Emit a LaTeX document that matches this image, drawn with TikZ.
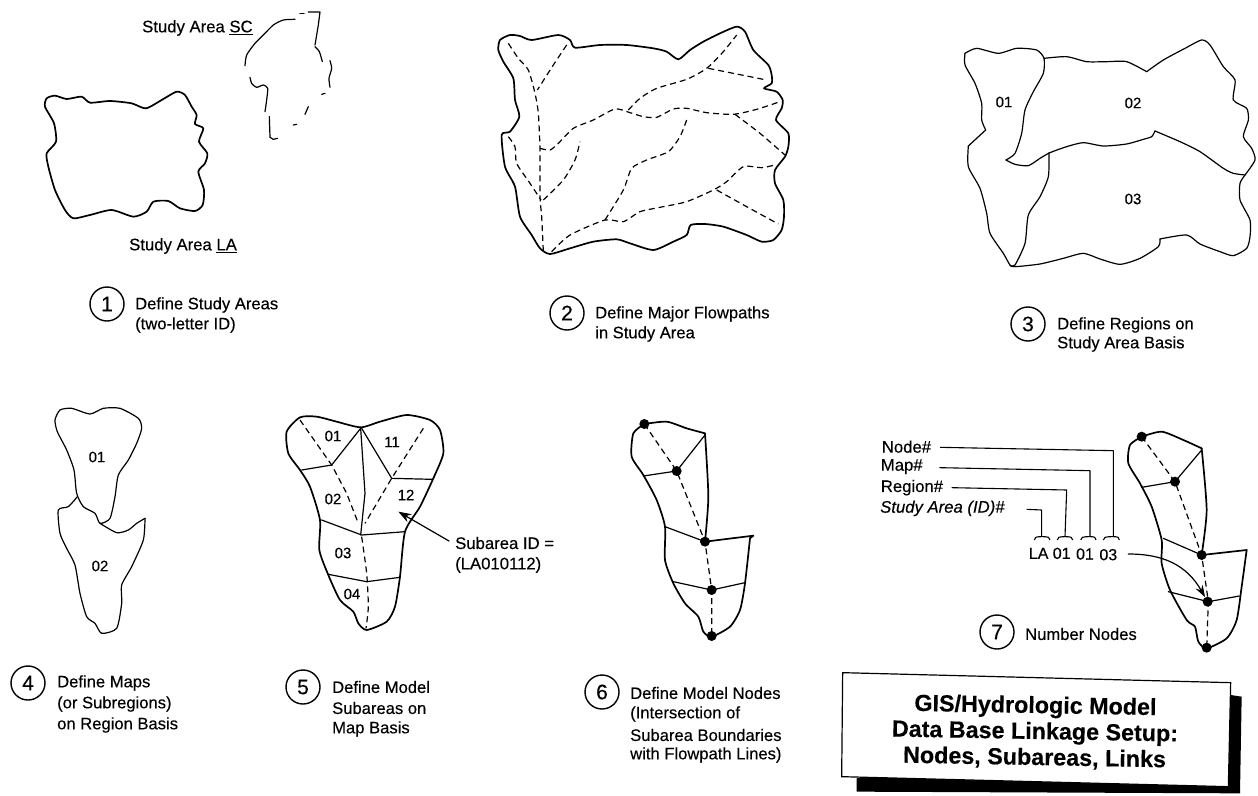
\documentclass[tikz,border=0pt]{standalone}
\usepackage{fontspec}
\setmainfont[FakeBold=0.3]{Liberation Sans}
\usetikzlibrary{arrows.meta}
\newcommand{\wob}[1]{plot[smooth,tension=0.4] coordinates {#1}}
\newcommand{\wobc}[1]{plot[smooth cycle,tension=0.4] coordinates {#1}}
\tikzset{
  outl/.style={line width=1.7pt,line join=round,line cap=round},
  thinl/.style={line width=1.2pt,line join=round,line cap=round},
  brk/.style={line width=1.1pt,line join=round},
  flow/.style={line width=1.2pt,dash pattern=on 6pt off 4pt},
  numc/.style={circle,draw,line width=1.4pt,minimum size=34pt,inner sep=0pt,font=\fontsize{21}{21}\selectfont},
  capt/.style={anchor=west,inner sep=0pt,font=\fontsize{16.6}{16.6}\selectfont},
  idl/.style={inner sep=0pt,font=\fontsize{15}{15}\selectfont},
  keyl/.style={anchor=west,inner sep=0pt,font=\fontsize{16.7}{16.7}\selectfont},
  ndot/.style={circle,fill=black,inner sep=0pt,minimum size=10pt},
  zm/.style={x=0.33333pt,y=-0.33333pt}
}
\begin{document}
\begin{tikzpicture}[x=1pt,y=-1pt]
\useasboundingbox (0,0) rectangle (1258,795);
% ---------- Panel 1
\begin{scope}[zm]
\draw[outl] \wobc{(140,295)(165,287)(200,297)(245,290)(270,308)(330,303)(395,310)(438,325)(490,297)(530,275)(555,285)(575,320)(590,345)(585,372)(610,385)(597,425)(622,460)(615,490)(595,515)(612,570)(608,615)(585,633)(540,625)(505,603)(460,605)(440,635)(400,650)(335,630)(270,645)(220,655)(195,630)(165,570)(145,500)(140,460)(168,425)(162,370)(135,320)};
\draw[thinl] \wob{(735,197)(740,165)(765,130)(790,105)(820,75)(850,60)(885,58)};
\draw[thinl] (900,40) -- (912,40);
\draw[thinl] (925,36) -- (960,36) -- (955,75) -- (945,135);
\draw[thinl] \wob{(945,140)(958,155)(967,185)};
\draw[thinl] \wob{(990,182)(995,205)(987,235)(990,262)};
\draw[thinl] (965,283) -- (975,280);
\draw[thinl] (925,320) -- (915,343);
\draw[thinl] (880,375) -- (890,373);
\draw[thinl] (808,350) -- (810,412) -- (820,418) -- (833,415);
\draw[thinl] \wob{(750,232)(755,250)(770,262)(790,255)(803,265)(800,300)(795,335)};
\end{scope}
\node[keyl] (sc) at (142,28) {Study Area \underline{SC}};
\node[keyl] (la) at (129,246) {Study Area \underline{LA}};
\node[numc] (c1) at (107,304) {1};
\node[capt] (t1a) at (135,305) {Define Study Areas};
\node[capt] (t1b) at (135,325) {(two-letter ID)};
% ---------- Panel 2
\begin{scope}[shift={(460,0)},zm]
\draw[outl] \wobc{(115,150)(120,120)(150,105)(180,108)(215,120)(295,105)(330,120)(345,143)(420,135)(500,135)(580,145)(620,155)(655,178)(690,150)(730,125)(780,100)(830,80)(855,95)(880,150)(925,195)(935,225)(935,250)(912,265)(950,275)(968,300)(965,325)(948,360)(985,400)(985,440)(975,470)(945,510)(945,550)(970,600)(972,650)(965,690)(940,720)(905,725)(860,705)(790,680)(735,672)(692,675)(680,705)(640,725)(580,750)(510,730)(470,718)(400,725)(330,745)(270,762)(240,745)(215,705)(180,650)(165,560)(135,500)(125,405)(150,395)(178,350)(165,300)(160,235)(130,185)};
\draw[flow] \wob{(145,130)(175,175)(205,210)(225,280)(235,340)(240,450)(240,590)(245,650)(250,755)};
\draw[flow] \wob{(320,135)(280,195)(232,270)};
\draw[flow] \wob{(240,445)(270,450)(295,430)(340,385)(400,360)(465,327)(510,338)(550,350)(590,352)(640,327)(680,325)(740,338)(820,343)(890,328)(960,305)};
\draw[flow] \wob{(505,330)(540,295)(590,265)(680,238)(740,205)(790,155)(830,105)};
\draw[flow] \wob{(745,205)(830,222)(920,240)};
\draw[flow] \wob{(825,343)(900,400)(975,465)};
\draw[flow] \wob{(145,410)(165,440)(170,490)(210,550)(243,600)};
\draw[flow] \wob{(250,600)(310,540)(345,480)(360,425)};
\draw[flow] \wob{(680,360)(660,410)(625,455)(560,480)(515,505)(490,570)(435,660)};
\draw[flow] \wob{(275,755)(330,705)(435,660)(490,665)(540,635)(600,622)(680,605)(760,570)(800,545)(850,500)(905,503)(945,495)};
\draw[flow] \wob{(770,570)(860,620)(955,672)};
\end{scope}
\node[numc] (c2) at (567,313) {2};
\node[capt] (t2a) at (595,314) {Define Major Flowpaths};
\node[capt] (t2b) at (595,334) {in Study Area};
% ---------- Panel 3
\begin{scope}[shift={(900,20)},zm]
\draw[thinl] \wob{(195,100)(230,85)(295,100)(350,85)(410,90)(432,115)(430,160)(400,215)(375,270)(365,340)(345,400)(318,420)};
\draw[thinl] \wob{(318,420)(345,433)(385,437)(420,415)(450,398)(500,380)(550,368)(610,378)(680,372)(730,358)(755,350)(765,333)};
\draw[thinl] \wob{(195,100)(195,135)(225,190)(245,250)(245,300)(257,330)};
\draw[thinl] (257,330) -- (205,378);
\draw[thinl] \wob{(205,378)(205,440)(240,505)(260,580)(270,640)(310,700)(330,735)(345,740)(420,732)(490,715)(550,700)(600,717)(660,733)(720,715)(775,680)(780,657)};
\draw[thinl] \wob{(780,657)(860,645)(900,672)(960,695)(1000,707)(1040,685)(1050,650)(1050,600)(1020,540)(1020,490)(1035,465)};
\draw[thinl] \wob{(1035,465)(1065,420)(1055,385)(1030,350)(1045,300)(1040,265)(1000,240)(1005,180)(970,140)(930,75)(905,60)(855,85)(790,120)(740,155)};
\draw[thinl] \wob{(740,155)(680,125)(620,125)(560,125)(500,110)(432,115)};
\draw[thinl] \wob{(765,333)(840,365)(900,395)(970,445)(1000,460)(1035,465)};
\draw[thinl] \wob{(447,398)(445,470)(420,530)(385,585)(375,670)(345,735)(330,737)};
\end{scope}
\node[idl] (r1) at (1004,102) {01};
\node[idl] (r2) at (1133,103) {02};
\node[idl] (r3) at (1133,199) {03};
\node[numc] (c3) at (1028,324) {3};
\node[capt] (t3a) at (1057,325) {Define Regions on};
\node[capt] (t3b) at (1057,344) {Study Area Basis};
% ---------- Panel 4
\begin{scope}[shift={(0,390)},zm]
\draw[thinl] \wobc{(165,90)(180,60)(215,55)(270,72)(310,55)(360,55)(415,85)(425,115)(410,160)(385,210)(355,255)(345,320)(330,385)(300,400)(285,370)(250,350)(230,310)(222,240)(200,180)(172,125)};
\draw[thinl] \wob{(232,320)(205,350)(175,360)(180,430)(200,475)(225,525)(240,610)(260,680)(285,700)(305,730)(350,715)(365,640)(365,585)(395,530)(430,450)(435,385)};
\draw[thinl] \wob{(435,385)(410,400)(385,420)(350,428)(300,400)};
\end{scope}
\node[idl] (m1) at (97,457) {01};
\node[idl] (m2) at (100,566) {02};
\node[numc] (c4) at (28,683) {4};
\node[capt] (t4a) at (57,683) {Define Maps};
\node[capt] (t4b) at (57,704) {(or Subregions)};
\node[capt] (t4c) at (57,725) {on Region Basis};
% ---------- Panel 5
\node[keyl] (s1) at (455,543) {Subarea ID =};
\node[keyl] (s2) at (455,565) {(LA010112)};
\begin{scope}[shift={(0,390)},zm]
\draw[outl] \wobc{(1082,112)(1010,95)(950,80)(900,82)(860,125)(865,190)(900,240)(930,290)(960,390)(958,480)(985,555)(1020,630)(1060,665)(1075,700)(1100,720)(1160,695)(1185,650)(1200,560)(1215,425)(1260,350)(1300,265)(1330,190)(1320,120)(1290,90)(1220,75)(1140,95)};
\draw[thinl] (905,240) -- (995,225) -- (1082,115);
\draw[thinl] (1082,115) -- (1095,310) -- (1082,435);
\draw[thinl] (1085,115) -- (1175,265) -- (1298,268);
\draw[thinl] (965,390) -- (1085,435) -- (1215,425);
\draw[thinl] (985,553) -- (1100,575) -- (1200,562);
\draw[flow] (900,90) -- (995,225) -- (1040,310) -- (1075,400);
\draw[flow] (1270,115) -- (1175,265) -- (1095,400);
\draw[flow] \wob{(1085,440)(1100,550)(1105,650)(1098,715)};
\coordinate (s5tip) at (1195,365);
\draw[thinl,-{Stealth[length=13pt,width=9pt]}] ([xshift=-6pt,yshift=2pt]s1.west) -- (s5tip);
\end{scope}
\node[idl] (a1) at (333,436) {01};
\node[idl] (a11) at (392,442) {11};
\node[idl] (a2) at (333,499) {02};
\node[idl] (a12) at (406,495) {12};
\node[idl] (a3) at (343,553) {03};
\node[idl] (a4) at (352,594) {04};
\node[numc] (c5) at (303,687) {5};
\node[capt] (t5a) at (332,687) {Define Model};
\node[capt] (t5b) at (332,708) {Subareas on};
\node[capt] (t5c) at (332,729) {Map Basis};
% ---------- Panel 6
\begin{scope}[shift={(560,400)},zm]
\draw[outl] \wob{(253,72)(220,100)(215,170)(250,225)(290,300)(315,380)(315,480)(340,550)(375,610)(415,650)(430,695)(455,710)(510,680)(540,630)(555,550)(570,415)};
\draw[outl] (570,415) -- (580,407) -- (435,425);
\draw[outl] \wob{(435,425)(445,290)(435,100)};
\draw[outl] \wob{(435,100)(380,85)(320,65)(253,72)};
\draw[thinl] (250,228) -- (350,213) -- (435,105);
\draw[thinl] (315,380) -- (435,425);
\draw[thinl] (340,545) -- (455,570) -- (555,548);
\draw[flow] (253,72) -- (350,213) -- (435,425) -- (455,570) -- (455,710);
\node[ndot] (n61) at (253,72) {};
\node[ndot] (n62) at (350,213) {};
\node[ndot] (n63) at (435,425) {};
\node[ndot] (n64) at (455,570) {};
\node[ndot] (n65) at (455,708) {};
\end{scope}
\node[numc] (c6) at (602,692) {6};
\node[capt] (t6a) at (630,693) {Define Model Nodes};
\node[capt] (t6b) at (630,714) {(Intersection of};
\node[capt] (t6c) at (630,735) {Subarea Boundaries};
\node[capt] (t6d) at (630,755) {with Flowpath Lines)};
% ---------- Panel 7
\begin{scope}[shift={(840,400)},zm]
\draw[outl] \wob{(905,110)(870,135)(865,190)(900,250)(935,320)(965,420)(965,490)(990,570)(1040,660)(1065,680)(1075,725)(1100,745)(1160,715)(1190,660)(1205,560)(1220,450)};
\draw[outl] (1220,450) -- (1085,465);
\draw[outl] \wob{(1085,465)(1100,330)(1085,145)};
\draw[outl] \wob{(1085,145)(1030,120)(965,95)(905,110)};
\draw[thinl] (905,262) -- (1005,245) -- (1085,150);
\draw[thinl] (970,415) -- (1085,465);
\draw[thinl] (985,575) -- (1105,605) -- (1198,588);
\draw[flow] (905,110) -- (1005,245) -- (1085,465) -- (1105,605) -- (1100,745);
\node[ndot] (n71) at (905,110) {};
\node[ndot] (n72) at (1005,245) {};
\node[ndot] (n73) at (1085,465) {};
\node[ndot] (n74) at (1103,605) {};
\node[ndot] (n75) at (1100,743) {};
\node[keyl] (kn) at (125,140) {Node\#};
\node[keyl] (km) at (122,200) {Map\#};
\node[keyl] (kr) at (122,263) {Region\#};
\node[keyl] (ks) at (120,325) {\itshape Study Area (ID)\#};
\node[idl,font=\fontsize{16}{16}\selectfont] (dla) at (596,460) {LA};
\node[idl,font=\fontsize{16}{16}\selectfont] (d1) at (665,460) {01};
\node[idl,font=\fontsize{16}{16}\selectfont] (d2) at (735,462) {01};
\node[idl,font=\fontsize{16}{16}\selectfont] (d3) at (805,464) {03};
\coordinate (bn) at (820,410);
\coordinate (bm) at (750,410);
\coordinate (br) at (675,410);
\coordinate (bs) at (605,410);
\draw[brk] (300,142) -- (820,152) -- (bn);
\draw[brk] (298,203) -- (750,212) -- (bm);
\draw[brk] (335,263) -- (680,270) -- (br);
\draw[brk] (560,328) -- (605,330) -- (bs);
\draw[brk] (790,420) .. controls (790,412) and (794,410) .. (bn) .. controls (834,410) and (838,412) .. (838,420);
\draw[brk] (722,420) .. controls (722,412) and (726,410) .. (bm) .. controls (764,410) and (768,412) .. (768,420);
\draw[brk] (652,420) .. controls (652,412) and (656,410) .. (br) .. controls (694,410) and (698,412) .. (698,420);
\draw[brk] (583,420) .. controls (583,412) and (587,410) .. (bs) .. controls (626,410) and (630,412) .. (630,420);
\draw[thinl,-{Stealth[length=12pt,width=8pt]}] (865,462) .. controls (970,462) and (1040,495) .. (n74);
\end{scope}
\node[numc] (c7) at (997,632) {7};
\node[capt] (t7) at (1025,634) {Number Nodes};
% ---------- Title box
\begin{scope}[shift={(840,400)},zm]
\fill[black] (1172,885) -- (1205,890) -- (1200,1180) -- (50,1175) -- (50,1135) -- cycle;
\draw[fill=white,line width=1.2pt] (8,818) -- (1172,848) -- (1165,1160) -- (5,1130) -- cycle;
\node[align=center,inner sep=0pt,rotate=-1,font=\bfseries\fontsize{23.3}{26}\selectfont] (title) at (585,997) {GIS/Hydrologic Model\\Data Base Linkage Setup:\\Nodes, Subareas, Links};
\end{scope}
\end{tikzpicture}
\end{document}
